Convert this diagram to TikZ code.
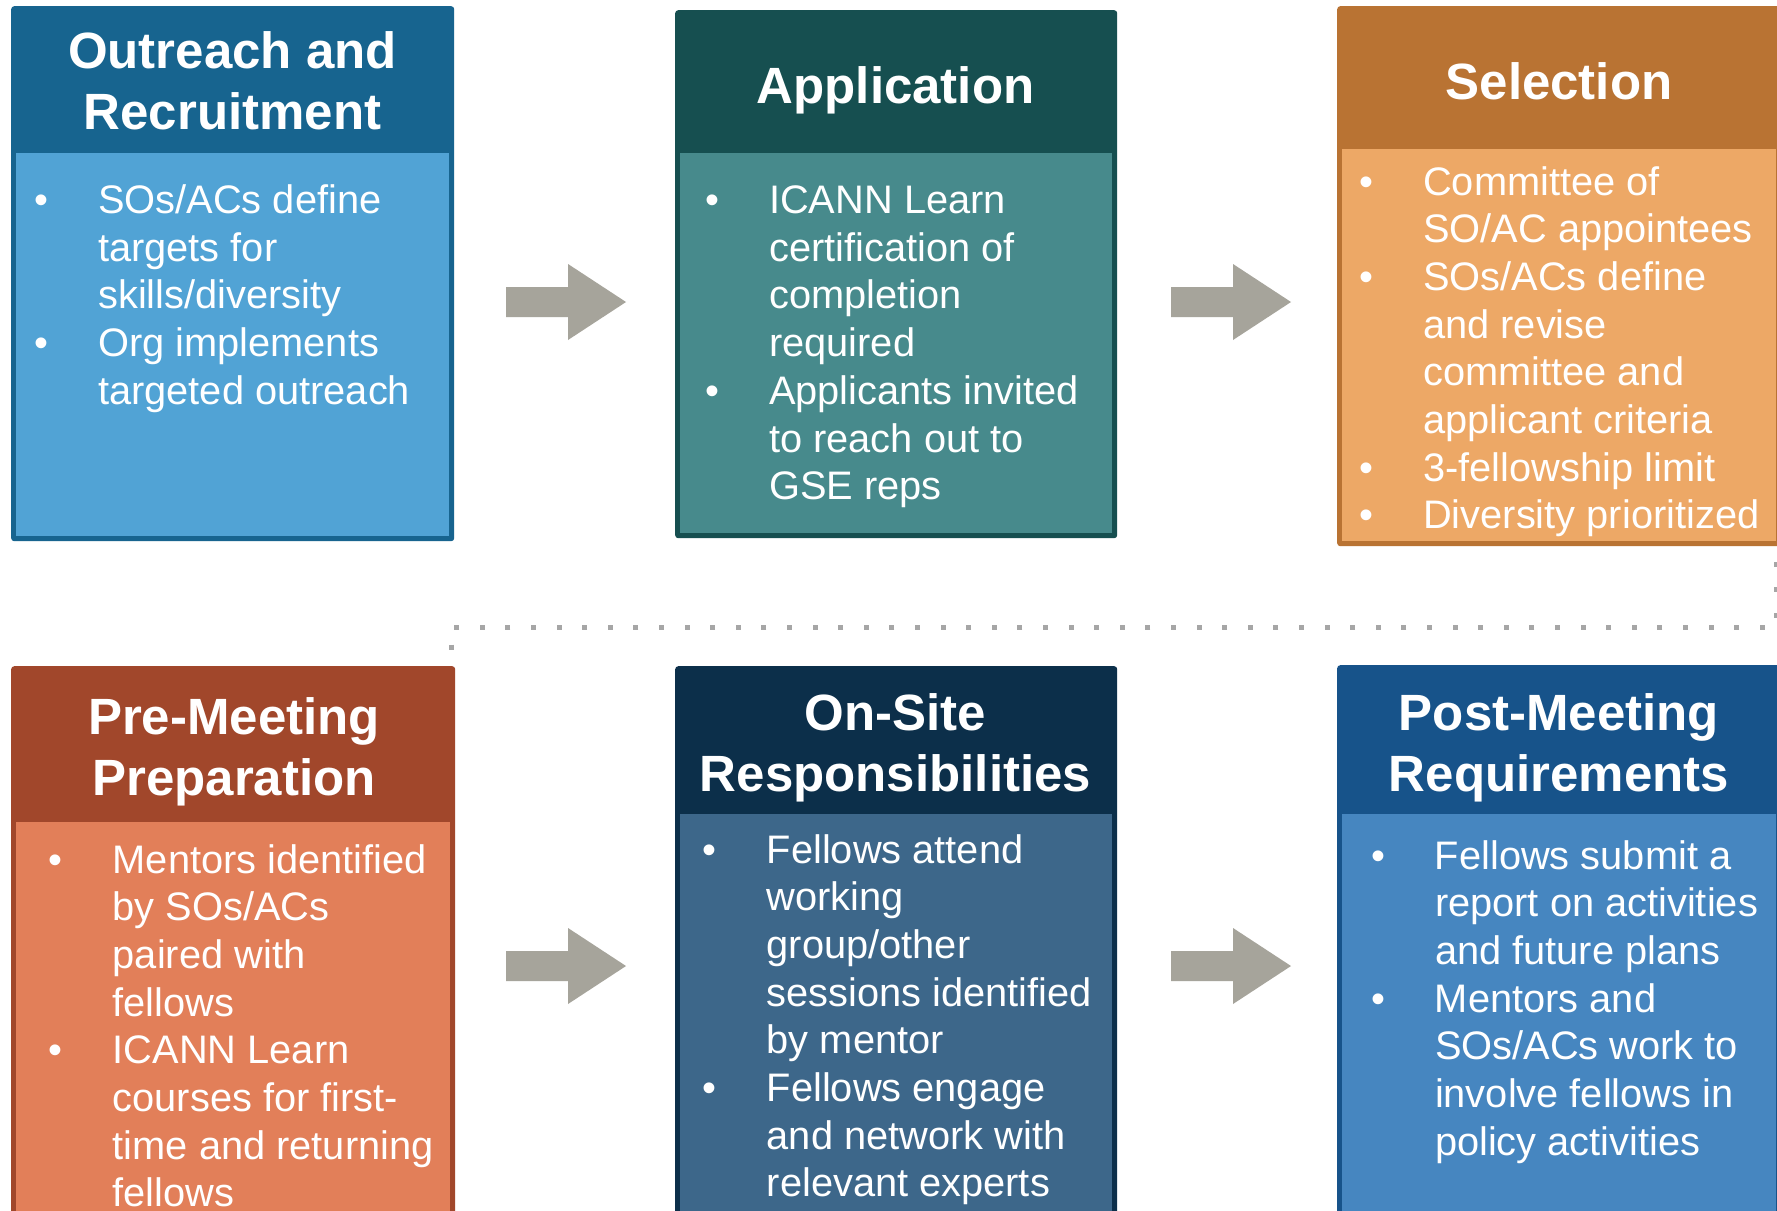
\documentclass[tikz,border=0pt]{standalone}
\usepackage{fontspec}
\setmainfont{Liberation Sans}
\definecolor{hA}{RGB}{23,100,143}
\definecolor{bA}{RGB}{81,163,213}
\definecolor{hB}{RGB}{22,79,80}
\definecolor{bB}{RGB}{71,138,140}
\definecolor{hC}{RGB}{185,115,51}
\definecolor{bC}{RGB}{237,168,102}
\definecolor{hD}{RGB}{161,71,43}
\definecolor{bD}{RGB}{226,127,89}
\definecolor{hE}{RGB}{12,47,74}
\definecolor{bE}{RGB}{61,103,138}
\definecolor{hF}{RGB}{23,83,138}
\definecolor{bF}{RGB}{70,134,192}
\definecolor{arrowc}{RGB}{166,164,155}
\definecolor{dotgray}{RGB}{166,166,166}
\newcommand{\bul}{\makebox[64pt][l]{•}}
\tikzset{
  boxouter/.style={rectangle, rounded corners=3pt, inner sep=0pt, anchor=north west, draw=none},
  boxbody/.style={rectangle, inner sep=0pt, anchor=north west, draw=none},
  titletxt/.style={text=white, font=\fontsize{51}{61}\selectfont\bfseries, inner sep=0pt, anchor=base},
  bodytxt/.style={text=white, font=\fontsize{39.8}{47.7}\selectfont, inner sep=0pt, anchor=base west},
  dotline/.style={draw=dotgray, line width=5pt, dash pattern=on 5pt off 20.6pt},
  blockarrow/.pic={\fill[arrowc] (-60,-15) -- (2,-15) -- (2,-38) -- (60,0) -- (2,38) -- (2,15) -- (-60,15) -- cycle;}
}
\begin{document}
\begin{tikzpicture}[x=1pt,y=-1pt]
\useasboundingbox (0,0) rectangle (1777,1210);
\clip (0,0) rectangle (1777,1210);
\fill[white] (0,0) rectangle (1777,1210);

% dotted connector
\coordinate (d0) at (1776,561.5);
\coordinate (d1) at (1776,627);
\coordinate (d2) at (451,627);
\coordinate (d3) at (451,652);
\draw[dotline] (d0) -- (d1) -- (d2) -- (d3);

% boxes
\node[boxouter, fill=hA, minimum width=443pt, minimum height=535pt] (b1) at (11,6) {};
\node[boxbody, fill=bA, minimum width=433pt, minimum height=383pt] (b1b) at (16,153) {};
\node[boxouter, fill=hB, minimum width=442pt, minimum height=528pt] (b2) at (675,10) {};
\node[boxbody, fill=bB, minimum width=432pt, minimum height=380pt] (b2b) at (680,153) {};
\node[boxouter, fill=hC, minimum width=444pt, minimum height=540pt] (b3) at (1337,6) {};
\node[boxbody, fill=bC, minimum width=434pt, minimum height=392pt] (b3b) at (1342,149) {};
\node[boxouter, fill=hD, minimum width=444pt, minimum height=600pt] (b4) at (11,666) {};
\node[boxbody, fill=bD, minimum width=434pt, minimum height=500pt] (b4b) at (16,822) {};
\node[boxouter, fill=hE, minimum width=442pt, minimum height=600pt] (b5) at (675,666) {};
\node[boxbody, fill=bE, minimum width=432pt, minimum height=500pt] (b5b) at (680,814) {};
\node[boxouter, fill=hF, minimum width=444pt, minimum height=600pt] (b6) at (1337,665) {};
\node[boxbody, fill=bF, minimum width=434pt, minimum height=500pt] (b6b) at (1342,814) {};

% titles
\node[titletxt] (t1) at (232.5,68) {\begin{tabular}[t]{@{}c@{}}Outreach and\\Recruitment\end{tabular}};
\node[titletxt] (t2) at (895.5,103) {Application};
\node[titletxt] (t3) at (1559,99) {Selection};
\node[titletxt] (t4) at (234,734) {\begin{tabular}[t]{@{}c@{}}Pre-Meeting\\Preparation\end{tabular}};
\node[titletxt] (t5) at (895.5,730) {\begin{tabular}[t]{@{}c@{}}On-Site\\Responsibilities\end{tabular}};
\node[titletxt] (t6) at (1559,730) {\begin{tabular}[t]{@{}c@{}}Post-Meeting\\Requirements\end{tabular}};

% body texts
\node[bodytxt] (x1) at (34,213.5) {\begin{tabular}[t]{@{}l@{}l@{}}
\bul & SOs/ACs define\\
 & targets for\\
 & skills/diversity\\
\bul & Org implements\\
 & targeted outreach
\end{tabular}};
\node[bodytxt] (x2) at (705,213.5) {\begin{tabular}[t]{@{}l@{}l@{}}
\bul & ICANN Learn\\
 & certification of\\
 & completion\\
 & required\\
\bul & Applicants invited\\
 & to reach out to\\
 & GSE reps
\end{tabular}};
\node[bodytxt] (x3) at (1359,195) {\begin{tabular}[t]{@{}l@{}l@{}}
\bul & Committee of\\
 & SO/AC appointees\\
\bul & SOs/ACs define\\
 & and revise\\
 & committee and\\
 & applicant criteria\\
\bul & 3-fellowship limit\\
\bul & Diversity prioritized
\end{tabular}};
\node[bodytxt] (x4) at (48.6,873) {\begin{tabular}[t]{@{}l@{}l@{}}
\bul & Mentors identified\\
 & by SOs/ACs\\
 & paired with\\
 & fellows\\
\bul & ICANN Learn\\
 & courses for first-\\
 & time and returning\\
 & fellows
\end{tabular}};
\node[bodytxt] (x5) at (702.6,863) {\begin{tabular}[t]{@{}l@{}l@{}}
\bul & Fellows attend\\
 & working\\
 & group/other\\
 & sessions identified\\
 & by mentor\\
\bul & Fellows engage\\
 & and network with\\
 & relevant experts
\end{tabular}};
\node[bodytxt] (x6) at (1370.8,869) {\begin{tabular}[t]{@{}l@{}l@{}}
\bul & Fellows submit a\\
 & report on activities\\
 & and future plans\\
\bul & Mentors and\\
 & SOs/ACs work to\\
 & involve fellows in\\
 & policy activities
\end{tabular}};

% block arrows
\coordinate (a1) at (566,302);
\coordinate (a2) at (1231,302);
\coordinate (a3) at (566,966);
\coordinate (a4) at (1231,966);
\pic at (a1) {blockarrow};
\pic at (a2) {blockarrow};
\pic at (a3) {blockarrow};
\pic at (a4) {blockarrow};
\end{tikzpicture}
\end{document}
